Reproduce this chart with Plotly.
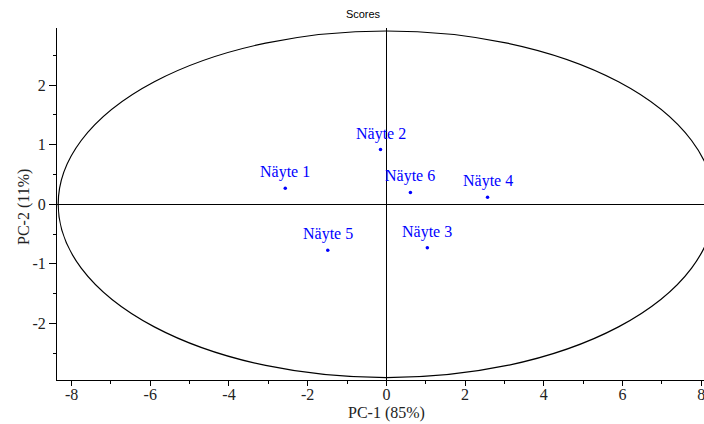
import plotly.graph_objects as go

# PCA scores (PC-1, PC-2) per sample
samples = ["Näyte 1", "Näyte 2", "Näyte 3", "Näyte 4", "Näyte 5", "Näyte 6"]
pc1 = [-2.57, -0.15, 1.04, 2.57, -1.49, 0.61]
pc2 = [0.27, 0.92, -0.73, 0.12, -0.77, 0.20]

# Hotelling T2 ellipse semi-axes
ellipse_a = 8.34
ellipse_b = 2.91

x_ticks = [-8, -6, -4, -2, 0, 2, 4, 6, 8]
x_labels = ["-8", "-6", "-4", "-2", "0", "2", "4", "6", "8"]
y_ticks = [-2, -1, 0, 1, 2]
y_labels = ["-2", "-1", "0", "1", "2"]

serif = "Liberation Serif, Times New Roman, serif"
label_color = "#222"

fig = go.Figure()

fig.add_shape(
    type="circle", xref="x", yref="y",
    x0=-ellipse_a, x1=ellipse_a, y0=-ellipse_b, y1=ellipse_b,
    line=dict(color="black", width=1.2),
)

fig.add_trace(go.Scatter(
    x=pc1, y=pc2, mode="markers",
    marker=dict(color="#0000ff", size=3.5),
    showlegend=False, hoverinfo="text", hovertext=samples,
))

# sample names above their points
for name, xv, yv in zip(samples, pc1, pc2):
    fig.add_annotation(
        x=xv, y=yv, text=name, showarrow=False,
        xanchor="center", yanchor="bottom", yshift=5,
        font=dict(family=serif, size=16, color="#0000ff"),
    )

axis_common = dict(
    showgrid=False,
    zeroline=True, zerolinecolor="black", zerolinewidth=1,
    showline=True, linecolor="black", linewidth=1,
    ticks="outside", tickcolor="black", tickwidth=1,
    tickfont=dict(family=serif, size=16, color=label_color),
)

fig.update_xaxes(
    range=[-8.37, 8.07], tickvals=x_ticks, ticktext=x_labels,
    ticklen=5, ticklabelstandoff=-5, ticklabeloverflow="allow",
    minor=dict(dtick=1, ticks="outside", ticklen=3, tickcolor="black"),
    **axis_common,
)
fig.update_yaxes(
    range=[-2.95, 2.96], tickvals=y_ticks, ticktext=y_labels,
    ticklen=7,
    minor=dict(dtick=0.5, ticks="outside", ticklen=3, tickcolor="black"),
    **axis_common,
)

# axis titles
fig.add_annotation(
    text="PC-1 (85%)", xref="paper", yref="paper",
    x=(387 - 57) / 647, y=-(413 - 380) / 352,
    xanchor="center", yanchor="middle", showarrow=False,
    font=dict(family=serif, size=16, color=label_color),
)
fig.add_annotation(
    text="PC-2 (11%)", xref="paper", yref="paper",
    x=-(57 - 24) / 647, y=(380 - 207) / 352, textangle=-90,
    xanchor="center", yanchor="middle", showarrow=False,
    font=dict(family=serif, size=16, color=label_color),
)

fig.update_layout(
    width=704, height=424,
    margin=dict(l=57, r=0, t=28, b=44),
    plot_bgcolor="white", paper_bgcolor="white",
    title=dict(text="Scores", x=363 / 704, xanchor="center", y=1 - 14 / 424,
               yanchor="middle", font=dict(family="Liberation Sans, Arial, sans-serif", size=11, color="black")),
)

fig.write_html("out.html")
